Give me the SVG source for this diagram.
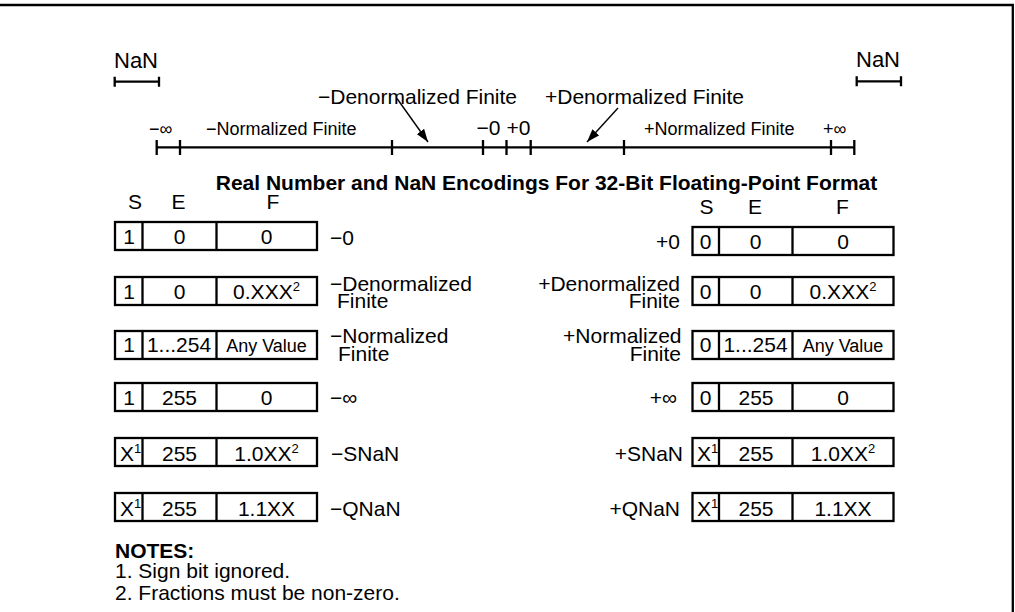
<svg xmlns="http://www.w3.org/2000/svg" width="1015" height="612" viewBox="0 0 1015 612">
<style>
text{font-family:"Liberation Sans",Arial,sans-serif;fill:#000}
.s21{font-size:21px}
.s18{font-size:18px}
.s22{font-size:22px}
.b{font-weight:bold}
.m{text-anchor:middle}
.e{text-anchor:end}
.ln{stroke:#000;stroke-width:2.3;fill:none}
.bx{stroke:#000;stroke-width:2.3;fill:#fff}
.ar{stroke:#000;stroke-width:1.4;fill:none}
.sup{font-size:13px}
</style>
<defs>
<marker id="ah" markerUnits="userSpaceOnUse" markerWidth="14" markerHeight="10" refX="13" refY="5" orient="auto">
<path d="M0,0.5 L13,5 L0,9.5 Z" fill="#000"/>
</marker>
</defs>
<path class="ln" d="M0,5 H1012.8 V612" stroke-width="2"/>

<g id="nan-left">
<text class="s22" x="114" y="68">NaN</text>
<path class="ln" d="M114.7,81.7 H159 M114.7,76.7 V86.7 M159,76.7 V86.7"/>
</g>
<g id="nan-right">
<text class="s22" x="856" y="67">NaN</text>
<path class="ln" d="M856.7,81.3 H901 M856.7,76.3 V86.3 M901,76.3 V86.3"/>
</g>

<g id="number-line">
<path class="ln" d="M156.7,147.3 H854.3 M156.7,140 V155 M180,140 V155 M392,140 V155 M483,140 V155 M506.5,140 V155 M530.7,140 V155 M624,140 V155 M831,140 V155 M854.3,140 V155"/>
<text class="s18" x="149" y="135">−∞</text>
<text class="s18" x="206" y="135">−Normalized Finite</text>
<text class="s21" x="476.5" y="135">−0</text>
<text class="s21" x="506.5" y="135">+0</text>
<text class="s18" x="644" y="135">+Normalized Finite</text>
<text class="s18" x="823" y="135">+∞</text>
<text class="s21" x="318" y="104">−Denormalized Finite</text>
<text class="s21" x="545" y="104">+Denormalized Finite</text>
</g>

<g id="connectors">
<line class="ar" x1="397" y1="98.5" x2="428" y2="142" marker-end="url(#ah)"/>
<line class="ar" x1="618" y1="108" x2="587" y2="142" marker-end="url(#ah)"/>
</g>

<text id="title" class="s21 b m" x="546.5" y="190">Real Number and NaN Encodings For 32-Bit Floating-Point Format</text>

<g id="headers-left">
<text class="s21 m" x="135" y="209">S</text>
<text class="s21 m" x="178.5" y="209">E</text>
<text class="s21 m" x="273" y="209">F</text>
</g>
<g id="headers-right">
<text class="s21 m" x="706.5" y="214">S</text>
<text class="s21 m" x="755" y="214">E</text>
<text class="s21 m" x="842.5" y="214">F</text>
</g>

<!-- left rows -->
<g id="row-neg-zero">
<rect class="bx" x="115" y="222" width="202" height="28"/>
<path class="ln" d="M142.5,222 V250 M216.5,222 V250"/>
<text class="s21 m" x="129" y="244">1</text>
<text class="s21 m" x="179.5" y="244">0</text>
<text class="s21 m" x="266.5" y="244">0</text>
<text class="s21" x="330" y="245">−0</text>
</g>
<g id="row-neg-denorm">
<rect class="bx" x="115" y="277" width="202" height="28"/>
<path class="ln" d="M142.5,277 V305 M216.5,277 V305"/>
<text class="s21 m" x="129" y="299">1</text>
<text class="s21 m" x="179.5" y="299">0</text>
<text class="s21 m" x="266.5" y="299">0.XXX<tspan class="sup" dy="-8">2</tspan></text>
<text class="s21" x="330" y="290.5">−Denormalized</text>
<text class="s21" x="337" y="308">Finite</text>
</g>
<g id="row-neg-norm">
<rect class="bx" x="115" y="331" width="202" height="28"/>
<path class="ln" d="M142.5,331 V359 M216.5,331 V359"/>
<text class="s21 m" x="129" y="352">1</text>
<text class="s21 m" x="179" y="352">1...254</text>
<text class="s18 m" x="266.5" y="352">Any Value</text>
<text class="s21" x="330" y="342.5">−Normalized</text>
<text class="s21" x="338" y="361">Finite</text>
</g>
<g id="row-neg-inf">
<rect class="bx" x="115" y="383" width="202" height="28"/>
<path class="ln" d="M142.5,383 V411 M216.5,383 V411"/>
<text class="s21 m" x="129" y="405">1</text>
<text class="s21 m" x="179.5" y="405">255</text>
<text class="s21 m" x="266.5" y="405">0</text>
<text class="s21" x="330" y="405">−∞</text>
</g>
<g id="row-neg-snan">
<rect class="bx" x="115" y="438" width="202" height="28"/>
<path class="ln" d="M142.5,438 V466 M216.5,438 V466"/>
<text class="s21" x="120" y="461">X<tspan class="sup" dy="-8">1</tspan></text>
<text class="s21 m" x="179.5" y="461">255</text>
<text class="s21 m" x="266.5" y="461">1.0XX<tspan class="sup" dy="-8">2</tspan></text>
<text class="s21" x="331" y="461">−SNaN</text>
</g>
<g id="row-neg-qnan">
<rect class="bx" x="115" y="493" width="202" height="28"/>
<path class="ln" d="M142.5,493 V521 M216.5,493 V521"/>
<text class="s21" x="120" y="516">X<tspan class="sup" dy="-8">1</tspan></text>
<text class="s21 m" x="179.5" y="516">255</text>
<text class="s21 m" x="266.5" y="516">1.1XX</text>
<text class="s21" x="330" y="516">−QNaN</text>
</g>

<!-- right rows -->
<g id="row-pos-zero">
<rect class="bx" x="692.5" y="227" width="201" height="28"/>
<path class="ln" d="M719,227 V255 M792.5,227 V255"/>
<text class="s21 m" x="705.5" y="249">0</text>
<text class="s21 m" x="755.5" y="249">0</text>
<text class="s21 m" x="843" y="249">0</text>
<text class="s21 e" x="680" y="249">+0</text>
</g>
<g id="row-pos-denorm">
<rect class="bx" x="692.5" y="277" width="201" height="28"/>
<path class="ln" d="M719,277 V305 M792.5,277 V305"/>
<text class="s21 m" x="705.5" y="299">0</text>
<text class="s21 m" x="755.5" y="299">0</text>
<text class="s21 m" x="843" y="299">0.XXX<tspan class="sup" dy="-8">2</tspan></text>
<text class="s21 e" x="680" y="290.5">+Denormalized</text>
<text class="s21 e" x="680" y="308">Finite</text>
</g>
<g id="row-pos-norm">
<rect class="bx" x="692.5" y="331" width="201" height="28"/>
<path class="ln" d="M719,331 V359 M792.5,331 V359"/>
<text class="s21 m" x="705.5" y="352">0</text>
<text class="s21 m" x="755.5" y="352">1...254</text>
<text class="s18 m" x="843" y="352">Any Value</text>
<text class="s21 e" x="681.5" y="343">+Normalized</text>
<text class="s21 e" x="681" y="361">Finite</text>
</g>
<g id="row-pos-inf">
<rect class="bx" x="692.5" y="383" width="201" height="28"/>
<path class="ln" d="M719,383 V411 M792.5,383 V411"/>
<text class="s21 m" x="705.5" y="405">0</text>
<text class="s21 m" x="756" y="405">255</text>
<text class="s21 m" x="843" y="405">0</text>
<text class="s21 e" x="677" y="405">+∞</text>
</g>
<g id="row-pos-snan">
<rect class="bx" x="692.5" y="438" width="201" height="28"/>
<path class="ln" d="M719,438 V466 M792.5,438 V466"/>
<text class="s21" x="697" y="461">X<tspan class="sup" dy="-8">1</tspan></text>
<text class="s21 m" x="756" y="461">255</text>
<text class="s21 m" x="843" y="461">1.0XX<tspan class="sup" dy="-8">2</tspan></text>
<text class="s21 e" x="683" y="461">+SNaN</text>
</g>
<g id="row-pos-qnan">
<rect class="bx" x="692.5" y="493" width="201" height="28"/>
<path class="ln" d="M719,493 V521 M792.5,493 V521"/>
<text class="s21" x="697" y="516">X<tspan class="sup" dy="-8">1</tspan></text>
<text class="s21 m" x="756" y="516">255</text>
<text class="s21 m" x="843" y="516">1.1XX</text>
<text class="s21 e" x="680" y="516">+QNaN</text>
</g>

<g id="notes">
<text class="s21 b" x="115" y="558">NOTES:</text>
<text class="s21" x="115" y="578">1. Sign bit ignored.</text>
<text class="s21" x="115" y="600">2. Fractions must be non-zero.</text>
</g>
</svg>
